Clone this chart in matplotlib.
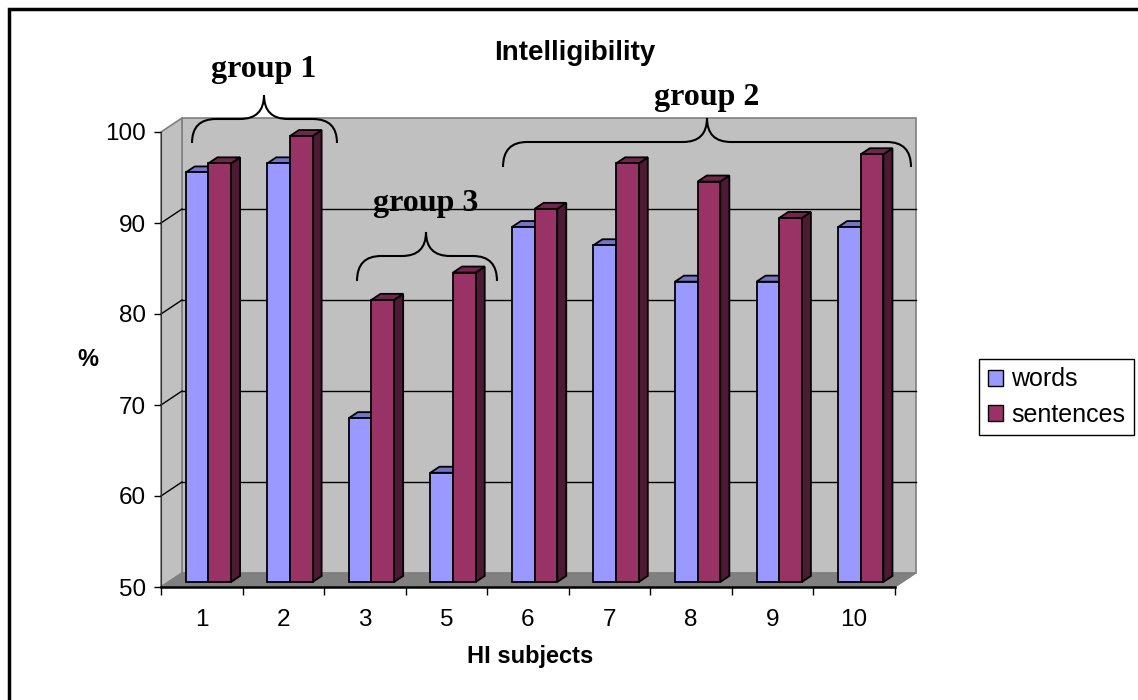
import matplotlib
matplotlib.use('Agg')
import matplotlib.pyplot as plt
from matplotlib.patches import Polygon, Patch, PathPatch
from matplotlib.path import Path

# data
subjects = ['1', '2', '3', '5', '6', '7', '8', '9', '10']
words = [95, 96, 68, 62, 89, 87, 83, 83, 89]
sentences = [96, 99, 81, 84, 91, 96, 94, 90, 97]
series_names = ['words', 'sentences']
group_labels = ['group 1', 'group 3', 'group 2']

W, H = 1138, 700
fig = plt.figure(figsize=(W / 100, H / 100), dpi=100)

# pixel layout of the fake-3d plot area
X0, CW = 161, 81.55          # front axis x, pixels per category
Y50, VPX = 587, 9.1          # y pixel of value 50, pixels per unit
BOX = (100, 930, 100, 610)   # left, right, top, bottom of axes in pixels
ymin_v, ymax_v = 50, 100

ax = fig.add_axes([BOX[0] / W, (H - BOX[3]) / H, (BOX[1] - BOX[0]) / W, (BOX[3] - BOX[2]) / H])
ax.set_xlim((BOX[0] - X0) / CW, (BOX[1] - X0) / CW)
ax.set_ylim(ymin_v - (BOX[3] - Y50) / VPX, ymin_v + (Y50 - BOX[2]) / VPX)
ax.patch.set_visible(False)

DX = 21 / CW     # depth offset in data units
DY = 14 / VPX
n = len(subjects)

wall = '#C0C0C0'
ax.add_patch(Polygon([(DX, ymin_v + DY), (n + DX, ymin_v + DY), (n + DX, ymax_v + DY), (DX, ymax_v + DY)],
                     closed=True, fc=wall, ec='#808080', lw=1.2, zorder=1))
ax.add_patch(Polygon([(0, ymin_v), (DX, ymin_v + DY), (DX, ymax_v + DY), (0, ymax_v)],
                     closed=True, fc=wall, ec='#808080', lw=1.2, zorder=1))
ax.add_patch(Polygon([(0, ymin_v), (n, ymin_v), (n + DX, ymin_v + DY), (DX, ymin_v + DY)],
                     closed=True, fc='#808080', ec='#808080', lw=1, zorder=1))

for v in range(60, 100, 10):
    ax.plot([DX, n + DX], [v + DY, v + DY], color='black', lw=1, zorder=2)
    ax.plot([0, DX], [v, v + DY], color='black', lw=1, zorder=2)

# bars
colors = {
    'words': ('#9999FF', '#7373C8', '#4D4D80'),
    'sentences': ('#993366', '#73264D', '#4D1933'),
}
bw = 0.278
x_start = 0.21
d0, d1 = 0.36, 0.79
z = 3
for i in range(n):
    for s, (name, vals) in enumerate(zip(series_names, [words, sentences])):
        front, top, side = colors[name]
        v = vals[i]
        xl = i + x_start + s * bw
        xr = xl + bw
        fx0, fx1 = xl + d0 * DX, xr + d0 * DX
        fy0, fy1 = ymin_v + d0 * DY, v + d0 * DY
        bx1 = xr + d1 * DX
        by0, by1 = ymin_v + d1 * DY, v + d1 * DY
        ax.add_patch(Polygon([(fx1, fy0), (bx1, by0), (bx1, by1), (fx1, fy1)],
                             closed=True, fc=side, ec='black', lw=1.3, zorder=z))
        ax.add_patch(Polygon([(fx0, fy1), (fx1, fy1), (bx1, by1), (xl + d1 * DX, by1)],
                             closed=True, fc=top, ec='black', lw=1.3, zorder=z))
        ax.add_patch(Polygon([(fx0, fy0), (fx1, fy0), (fx1, fy1), (fx0, fy1)],
                             closed=True, fc=front, ec='black', lw=1.3, zorder=z))
        z += 1

# axes
for sp in ['top', 'right']:
    ax.spines[sp].set_visible(False)
ax.spines['left'].set_position(('data', 0))
ax.spines['left'].set_bounds(ymin_v, ymax_v)
ax.spines['left'].set_color('#333333')
ax.spines['bottom'].set_position(('data', ymin_v))
ax.spines['bottom'].set_bounds(0, n)
ax.spines['bottom'].set_linewidth(1.8)
ax.spines['left'].set_zorder(50)
ax.spines['bottom'].set_zorder(50)

ax.set_yticks(range(ymin_v, ymax_v + 1, 10))
ax.tick_params(axis='y', direction='out', length=5, width=1, pad=6, labelsize=17.5)
ax.set_xticks(range(n + 1))
ax.set_xticklabels([])
ax.set_xticks([i + 0.5 for i in range(n)], minor=True)
ax.set_xticklabels(subjects, minor=True)
ax.tick_params(axis='x', which='major', direction='out', length=6, width=1)
ax.tick_params(axis='x', which='minor', length=0, pad=16, labelsize=17.5)
for lab in ax.get_xticklabels(minor=True) + ax.get_yticklabels():
    lab.set_fontfamily('Liberation Sans')

# overlay in pixel coordinates for annotations
ov = fig.add_axes([0, 0, 1, 1], zorder=10)
ov.set_xlim(0, W)
ov.set_ylim(H, 0)
ov.axis('off')
ov.patch.set_visible(False)

ov.plot([9, 9, W + 5], [H + 5, 9, 9], color='black', lw=2.5, solid_joinstyle='miter')

sans = dict(family='Liberation Sans', fontweight='bold', ha='center', va='center')
ov.text(575, 53, 'Intelligibility', fontsize=20, **sans)
ov.text(88, 360, '%', fontsize=17, **sans)
ov.text(530, 657, 'HI subjects', fontsize=17, **sans)


def brace(x0, x1, xc, y_end, y_h, y_tip, rx=24):
    verts = [(x0, y_end), (x0, y_h), (x0 + rx, y_h),
             (xc - rx, y_h), (xc, y_h), (xc, y_tip),
             (xc, y_h), (xc + rx, y_h),
             (x1 - rx, y_h), (x1, y_h), (x1, y_end)]
    codes = [Path.MOVETO, Path.CURVE3, Path.CURVE3,
             Path.LINETO, Path.CURVE3, Path.CURVE3,
             Path.CURVE3, Path.CURVE3,
             Path.LINETO, Path.CURVE3, Path.CURVE3]
    ov.add_patch(PathPatch(Path(verts, codes), fc='none', ec='black', lw=1.5))


braces = [(192, 337, 264, 143, 119, 95, 70),
          (357, 497, 426, 281, 256, 232, 204),
          (503, 911, 707, 167, 142, 118, 98)]
for label, (x0, x1, xc, ye, yh, yt, ty) in zip(group_labels, braces):
    brace(x0, x1, xc, ye, yh, yt)
    ov.text(xc, ty, label, fontsize=23, family='Liberation Serif', fontweight='bold',
            ha='center', va='center')

handles = [Patch(fc=colors[nm][0], ec='black', lw=1) for nm in series_names]
leg = fig.legend(handles, series_names, loc='center right',
                 bbox_to_anchor=(1134 / W, 1 - 397 / H), fancybox=False, framealpha=1,
                 edgecolor='black', prop={'family': 'Liberation Sans', 'size': 18},
                 handlelength=0.6, handleheight=0.6, handletextpad=0.35,
                 borderpad=0.35, labelspacing=0.45, borderaxespad=0)
leg.get_frame().set_linewidth(1)

fig.savefig('out.png', dpi=100)
